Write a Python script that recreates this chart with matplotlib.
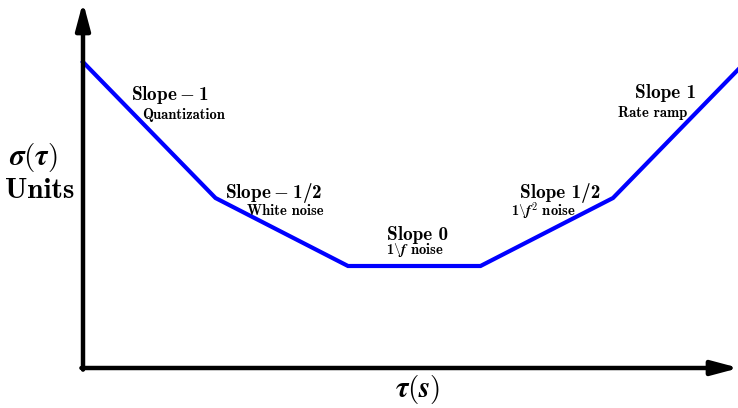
import matplotlib
matplotlib.use("Agg")
import matplotlib.pyplot as plt

plt.rcParams["mathtext.fontset"] = "cm"
LABEL_FONT = ["cmb10", "DejaVu Serif"]

# Schematic Allan deviation curve (log-log units: decades)
log_tau = [0, 1, 2, 3, 4, 5]
log_sigma = [2.25, 1.25, 0.75, 0.75, 1.25, 2.25]

slope_labels = [r"Slope$\:-\:$1", r"Slope$\:-\:$1/2", "Slope 0", "Slope 1/2", "Slope 1"]
noise_labels = ["Quantization", "White noise",
                r"1$\backslash\boldsymbol{f}$ noise",
                r"1$\backslash\boldsymbol{f}^2$ noise",
                "Rate ramp"]

W, H = 738, 408
fig = plt.figure(figsize=(W / 100, H / 100), dpi=100)
ax = fig.add_axes([0, 0, 1, 1])

# pixel geometry of the drawing
x0_px, y0_px = 83, 368
sx, sy = 132.5, 136.0
ax.set_xlim(-x0_px / sx, (W - x0_px) / sx)
ax.set_ylim(-(H - y0_px) / sy, y0_px / sy)
ax.axis("off")

ax.plot(log_tau, log_sigma, color="#0000ff", lw=3.0, solid_joinstyle="miter", zorder=3)

xmax = (W + 1 - x0_px) / sx
ytop = (y0_px - 2) / sy
arrow = dict(arrowstyle="-|>,head_length=1.35,head_width=0.36", lw=3.2, color="black",
             shrinkA=0, shrinkB=0, mutation_scale=12)
ax.annotate("", xy=(xmax, 0), xytext=(-0.012, 0), arrowprops=arrow,
            annotation_clip=False, zorder=4)
ax.annotate("", xy=(0, ytop), xytext=(0, -0.012), arrowprops=arrow,
            annotation_clip=False, zorder=4)

def px(x, y):
    return x / W, 1 - y / H

# label anchors: (centre x, baseline y) in pixels
slope_pos = [(170, 100), (274, 198), (418, 240), (560, 198), (666, 98)]
noise_pos = [(184, 119), (285, 215), (415, 254), (543, 216), (653, 117)]
for lab, p in zip(slope_labels, slope_pos):
    fig.text(*px(*p), lab, family=LABEL_FONT, fontsize=13.8, ha="center", va="baseline")
for lab, p in zip(noise_labels, noise_pos):
    fig.text(*px(*p), lab, family=LABEL_FONT, fontsize=10.5, ha="center", va="baseline")

fig.text(*px(9, 165), r"$\boldsymbol{\sigma}(\boldsymbol{\tau})$",
         fontsize=21, ha="left", va="baseline")
fig.text(*px(5, 198), "Units", family=LABEL_FONT, fontsize=21, ha="left", va="baseline")
fig.text(*px(418, 397), r"$\boldsymbol{\tau}(\boldsymbol{s})$",
         fontsize=21, ha="center", va="baseline")

fig.savefig("out.png", dpi=100)
